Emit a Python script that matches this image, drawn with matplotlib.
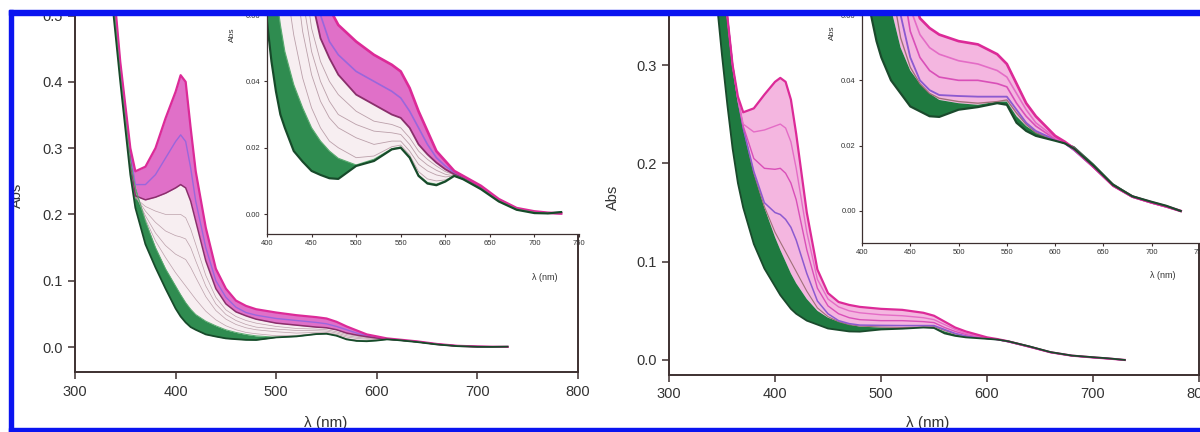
import matplotlib
matplotlib.use("Agg")
import matplotlib.pyplot as plt
from matplotlib.patches import Rectangle

plt.rcParams['font.family'] = ['Liberation Sans', 'DejaVu Sans']

# ---- left panel spectra (wavelength in nm, absorbance) ----
wl_a = [335, 345, 355, 360, 370, 380, 390, 400, 405, 410, 415, 420, 430, 440, 450, 460, 470, 480,
        500, 520, 540, 550, 560, 570, 580, 590, 600, 610, 620, 640, 660, 680, 700, 715, 730]
a_mag_top = [0.60, 0.43, 0.30, 0.265, 0.272, 0.30, 0.345, 0.385, 0.41, 0.40, 0.33, 0.265, 0.18, 0.118,
             0.088, 0.07, 0.062, 0.057, 0.052, 0.048, 0.045, 0.043, 0.038, 0.031, 0.025, 0.019, 0.016,
             0.013, 0.0115, 0.0085, 0.0045, 0.0018, 0.0008, 0.0004, 0.0002]
a_mag_mid = [0.59, 0.42, 0.29, 0.245, 0.245, 0.26, 0.285, 0.31, 0.32, 0.31, 0.27, 0.22, 0.15, 0.10,
             0.075, 0.060, 0.052, 0.048, 0.043, 0.040, 0.037, 0.035, 0.031, 0.026, 0.021, 0.017, 0.0145,
             0.0125, 0.011, 0.0082, 0.0043, 0.0017, 0.0007, 0.0003, 0.0002]
a_mag_low = [0.58, 0.41, 0.28, 0.228, 0.222, 0.226, 0.232, 0.24, 0.245, 0.24, 0.22, 0.19, 0.13, 0.088,
             0.065, 0.053, 0.047, 0.042, 0.036, 0.033, 0.030, 0.029, 0.026, 0.021, 0.018, 0.0155, 0.0135,
             0.012, 0.0108, 0.008, 0.0042, 0.0016, 0.0006, 0.0003, 0.0002]
a_gray1 = [0.58, 0.41, 0.28, 0.225, 0.212, 0.205, 0.20, 0.20, 0.20, 0.195, 0.178, 0.155, 0.108, 0.075,
           0.056, 0.046, 0.040, 0.036, 0.031, 0.028, 0.027, 0.026, 0.023, 0.019, 0.0165, 0.0145, 0.0128,
           0.0118, 0.0106, 0.0079, 0.0041, 0.0015, 0.0005, 0.0003, 0.0003]
a_gray2 = [0.58, 0.41, 0.28, 0.228, 0.205, 0.188, 0.175, 0.168, 0.166, 0.163, 0.15, 0.13, 0.092, 0.065,
           0.049, 0.040, 0.034, 0.030, 0.027, 0.025, 0.0245, 0.024, 0.021, 0.017, 0.0148, 0.0132, 0.012,
           0.0115, 0.0105, 0.0078, 0.004, 0.0014, 0.0005, 0.0003, 0.0003]
a_gray3 = [0.57, 0.41, 0.28, 0.23, 0.198, 0.172, 0.153, 0.14, 0.136, 0.132, 0.12, 0.105, 0.076, 0.055,
           0.042, 0.034, 0.029, 0.026, 0.023, 0.021, 0.022, 0.022, 0.019, 0.015, 0.013, 0.0118, 0.0112,
           0.0115, 0.0105, 0.0077, 0.004, 0.0014, 0.0004, 0.0003, 0.0004]
a_gray4 = [0.57, 0.41, 0.28, 0.235, 0.193, 0.16, 0.135, 0.112, 0.102, 0.092, 0.082, 0.072, 0.054, 0.041,
           0.032, 0.026, 0.022, 0.020, 0.017, 0.0175, 0.0203, 0.0208, 0.0178, 0.0128, 0.0106, 0.0100, 0.0103,
           0.0115, 0.0105, 0.0076, 0.0039, 0.0013, 0.0004, 0.0003, 0.0005]
a_green_top = [0.57, 0.41, 0.28, 0.24, 0.19, 0.15, 0.118, 0.092, 0.079, 0.067, 0.057, 0.049, 0.039, 0.032,
               0.026, 0.022, 0.019, 0.0168, 0.0148, 0.0165, 0.0197, 0.0202, 0.0173, 0.0118, 0.0095, 0.009,
               0.010, 0.0117, 0.0107, 0.0077, 0.004, 0.0015, 0.0005, 0.0003, 0.0007]
a_green_low = [0.55, 0.40, 0.26, 0.21, 0.155, 0.12, 0.088, 0.058, 0.046, 0.037, 0.030, 0.026, 0.019, 0.0158,
               0.013, 0.0118, 0.0108, 0.0106, 0.0145, 0.016, 0.0195, 0.020, 0.017, 0.0115, 0.0092, 0.0087,
               0.0098, 0.0115, 0.0105, 0.0075, 0.0038, 0.0013, 0.0003, 0.0002, 0.0006]

# ---- right panel spectra ----
wl_b = [340, 350, 355, 360, 365, 370, 380, 390, 400, 405, 410, 415, 420, 430, 440, 450, 460, 470, 480,
        500, 520, 540, 550, 560, 570, 580, 600, 610, 620, 640, 660, 680, 700, 715, 730]
b_mag_top = [0.47, 0.40, 0.35, 0.30, 0.268, 0.252, 0.256, 0.27, 0.283, 0.287, 0.283, 0.265, 0.23, 0.15,
             0.092, 0.068, 0.059, 0.056, 0.054, 0.052, 0.051, 0.048, 0.045, 0.039, 0.033, 0.029, 0.023,
             0.0212, 0.019, 0.0135, 0.0078, 0.0044, 0.0026, 0.0014, 0.0]
b_mag2 = [0.47, 0.40, 0.35, 0.30, 0.265, 0.24, 0.232, 0.234, 0.238, 0.24, 0.236, 0.222, 0.195, 0.13,
          0.082, 0.062, 0.054, 0.050, 0.048, 0.046, 0.045, 0.043, 0.041, 0.036, 0.031, 0.027, 0.0225,
          0.021, 0.0188, 0.0134, 0.0077, 0.0043, 0.0025, 0.0013, 0.0]
b_mag3 = [0.47, 0.40, 0.35, 0.30, 0.265, 0.238, 0.205, 0.195, 0.194, 0.195, 0.19, 0.18, 0.163, 0.112,
          0.073, 0.055, 0.047, 0.043, 0.041, 0.040, 0.040, 0.039, 0.038, 0.033, 0.029, 0.026, 0.022,
          0.0208, 0.0186, 0.0133, 0.0077, 0.0043, 0.0025, 0.0013, 0.0]
b_purple = [0.47, 0.40, 0.35, 0.30, 0.265, 0.236, 0.192, 0.16, 0.15, 0.148, 0.143, 0.135, 0.122, 0.088,
            0.060, 0.047, 0.040, 0.037, 0.0355, 0.0352, 0.035, 0.035, 0.035, 0.031, 0.027, 0.0245, 0.0218,
            0.0207, 0.0185, 0.0133, 0.0077, 0.0043, 0.0025, 0.0013, 0.0]
b_brown = [0.47, 0.40, 0.35, 0.30, 0.265, 0.236, 0.19, 0.156, 0.13, 0.12, 0.11, 0.10, 0.09, 0.07,
           0.053, 0.044, 0.039, 0.036, 0.0345, 0.0335, 0.033, 0.0335, 0.034, 0.030, 0.0265, 0.024, 0.0217,
           0.0207, 0.0186, 0.0134, 0.0078, 0.0044, 0.0026, 0.0014, 0.0]
b_green_top = [0.47, 0.40, 0.35, 0.30, 0.265, 0.235, 0.19, 0.155, 0.125, 0.112, 0.10, 0.088, 0.078, 0.062,
               0.05, 0.043, 0.039, 0.036, 0.034, 0.033, 0.0325, 0.0335, 0.0335, 0.029, 0.026, 0.024,
               0.022, 0.021, 0.0198, 0.0145, 0.0085, 0.0048, 0.0029, 0.0017, 0.0003]
b_green_low = [0.42, 0.31, 0.26, 0.215, 0.18, 0.155, 0.118, 0.093, 0.075, 0.066, 0.059, 0.052, 0.047, 0.040,
               0.036, 0.032, 0.0305, 0.029, 0.0288, 0.031, 0.0318, 0.033, 0.0325, 0.027, 0.0245, 0.023,
               0.0215, 0.0207, 0.019, 0.0138, 0.008, 0.0045, 0.0028, 0.0016, 0.0]

axis_col = '#3d3030'
text_col = '#333333'

fig = plt.figure(figsize=(12, 4.32), dpi=100)


def px_axes(x0, y0, x1, y1, z=1):
    return fig.add_axes([x0 / 1200, 1 - y1 / 432, (x1 - x0) / 1200, (y1 - y0) / 432], zorder=z)


def style(ax, inset=False):
    ax.spines['top'].set_visible(False)
    if inset:
        ax.spines['right'].set_visible(False)
    for s in ax.spines.values():
        s.set_color(axis_col)
        s.set_linewidth(0.9 if inset else 1.4)
    ax.tick_params(direction='out', colors=axis_col, labelcolor=text_col,
                   length=2.5 if inset else 5, width=0.8 if inset else 1.1,
                   labelsize=5.5 if inset else 10.5, pad=2 if inset else 4)
    ax.tick_params(right=False, top=False)


def left_spectra(ax, lw):
    ax.fill_between(wl_a, a_green_top, a_mag_low, color='#f7eef1', lw=0)
    for g in (a_gray1, a_gray2, a_gray3, a_gray4):
        ax.plot(wl_a, g, color='#bba0aa', lw=0.5 * lw)
    ax.fill_between(wl_a, a_mag_low, a_mag_top, color='#e070c8', lw=0)
    ax.plot(wl_a, a_mag_mid, color='#9a66dc', lw=1.0 * lw)
    ax.plot(wl_a, a_mag_low, color='#8a2f6c', lw=1.1 * lw)
    ax.plot(wl_a, a_mag_top, color='#dc2a98', lw=1.6 * lw)
    ax.fill_between(wl_a, a_green_low, a_green_top, color='#2f8c50', lw=0)
    ax.plot(wl_a, a_green_top, color='#5aaa70', lw=0.7 * lw)
    ax.plot(wl_a, a_green_low, color='#174a2a', lw=1.3 * lw)


def right_spectra(ax, lw):
    ax.fill_between(wl_b, b_green_top, b_mag_top, color='#f4b6e0', lw=0)
    ax.plot(wl_b, b_brown, color='#a07078', lw=0.8 * lw)
    ax.plot(wl_b, b_purple, color='#8c5ad0', lw=1.1 * lw)
    ax.plot(wl_b, b_mag3, color='#d94fb8', lw=1.0 * lw)
    ax.plot(wl_b, b_mag2, color='#e46cc6', lw=1.0 * lw)
    ax.plot(wl_b, b_mag_top, color='#dc2a98', lw=1.6 * lw)
    ax.fill_between(wl_b, b_green_low, b_green_top, color='#1f7a40', lw=0)
    ax.plot(wl_b, b_green_low, color='#1a4a2c', lw=1.3 * lw)


# left main
ax1 = px_axes(75, 15, 578, 372)
left_spectra(ax1, 1.0)
ax1.set_xlim(300, 800)
ax1.set_ylim(-0.0377, 0.5008)
ax1.set_xticks([300, 400, 500, 600, 700, 800])
ax1.set_yticks([0.0, 0.1, 0.2, 0.3, 0.4, 0.5])
ax1.yaxis.set_major_formatter(plt.FormatStrFormatter('%.1f'))
style(ax1)

# left inset
in1 = px_axes(267, 15, 579, 234, z=2)
left_spectra(in1, 1.2)
in1.set_xlim(400, 750)
in1.set_ylim(-0.006, 0.0595)
in1.set_xticks([400, 450, 500, 550, 600, 650, 700, 750])
in1.set_yticks([0.00, 0.02, 0.04, 0.06])
in1.yaxis.set_major_formatter(plt.FormatStrFormatter('%.2f'))
style(in1, inset=True)

# right main
ax2 = px_axes(669, 15, 1199, 375)
right_spectra(ax2, 1.0)
ax2.set_xlim(300, 800)
ax2.set_ylim(-0.0153, 0.351)
ax2.set_xticks([300, 400, 500, 600, 700, 800])
ax2.set_yticks([0.0, 0.1, 0.2, 0.3])
ax2.yaxis.set_major_formatter(plt.FormatStrFormatter('%.1f'))
style(ax2)

# right inset
in2 = px_axes(862, 15, 1200, 243, z=2)
right_spectra(in2, 1.2)
in2.set_xlim(400, 750)
in2.set_ylim(-0.0098, 0.0598)
in2.set_xticks([400, 450, 500, 550, 600, 650, 700, 750])
in2.set_yticks([0.00, 0.02, 0.04, 0.06])
in2.yaxis.set_major_formatter(plt.FormatStrFormatter('%.2f'))
style(in2, inset=True)


def ftext(x, y, s, **kw):
    fig.text(x / 1200, 1 - y / 432, s, ha='center', va='center', color=text_col, **kw)


ftext(17, 195, 'Abs', fontsize=10.5, rotation=90)
ftext(326, 423, 'λ (nm)', fontsize=11)
ftext(613, 197, 'Abs', fontsize=10.5, rotation=90)
ftext(928, 423, 'λ (nm)', fontsize=11)
ftext(232, 35, 'Abs', fontsize=6, rotation=90)
ftext(545, 277, 'λ (nm)', fontsize=6.5)
ftext(832, 33, 'Abs', fontsize=6, rotation=90)
ftext(1163, 275, 'λ (nm)', fontsize=6.5)

# blue frame round the figure
blue = '#0a14f0'
for x0, y0, w, h in [(9, 10, 1191, 5), (9, 10, 4, 422), (9, 428, 1191, 4)]:
    fig.add_artist(Rectangle((x0 / 1200, 1 - (y0 + h) / 432), w / 1200, h / 432,
                             transform=fig.transFigure, color=blue, zorder=10))

fig.savefig('out.png', dpi=100)
